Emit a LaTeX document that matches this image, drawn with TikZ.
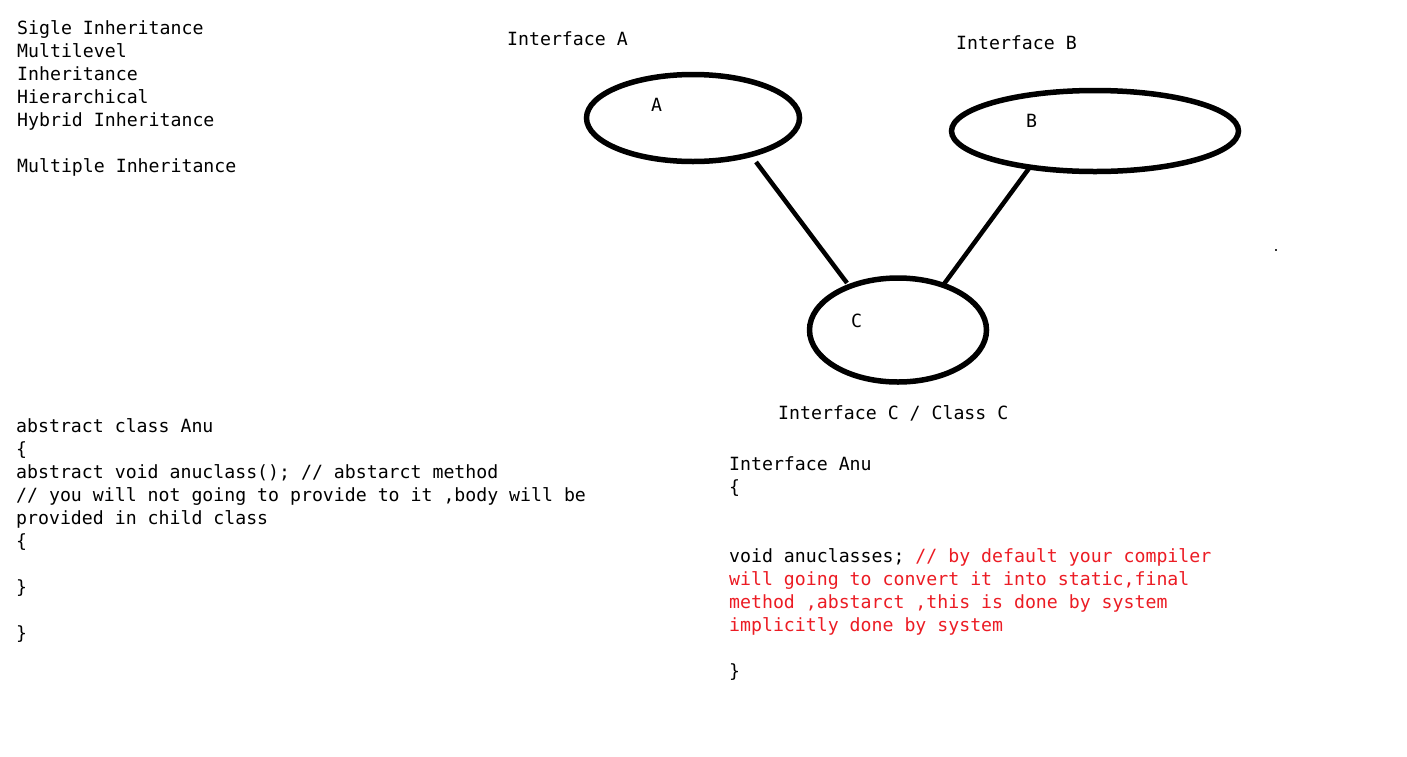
\documentclass[tikz,border=0pt]{standalone}
\usepackage{fontspec}
\setmonofont{DejaVu Sans Mono}
\usetikzlibrary{shapes.geometric,calc}
\definecolor{codered}{RGB}{236,28,36}
\tikzset{
  txt/.style={anchor=base west, inner sep=0pt, font=\ttfamily\fontsize{18.2}{23}\selectfont, text=black},
  oval/.style={ellipse, draw=black, line width=5.5pt, inner sep=0pt},
  link/.style={draw=black, line width=4.5pt}
}
\begin{document}
\begin{tikzpicture}[x=1pt,y=-1pt]
\useasboundingbox[fill=white] (0,0) rectangle (1407,756);
% top-left list
\node[txt] (l1) at (17,34) {Sigle Inheritance};
\node[txt] (l2) at (17,57) {Multilevel};
\node[txt] (l3) at (17,80) {Inheritance};
\node[txt] (l4) at (17,103) {Hierarchical};
\node[txt] (l5) at (17,126) {Hybrid Inheritance};
\node[txt] (l6) at (17,172) {Multiple Inheritance};
% diagram
\node[txt] (ia) at (507,45) {Interface A};
\node[txt] (ib) at (956,49) {Interface B};
\node[oval, minimum width=213pt, minimum height=87pt] (A) at (693,118) {};
\node[oval, minimum width=287pt, minimum height=81pt] (B) at (1095,131) {};
\node[oval, minimum width=177pt, minimum height=104pt] (C) at (898,330) {};
\node[txt] (la) at (651,111) {A};
\node[txt] (lb) at (1026,127) {B};
\node[txt] (lc) at (851,327) {C};
\draw[link] ($(A.center)+(63,44)$) -- ($(C.center)+(-51,-47)$);
\draw[link] ($(B.center)+(-65,36)$) -- ($(C.center)+(46,-46)$);
\node[txt] (ic) at (778,419) {Interface C / Class C};
\fill[black!80] (1275,249) rectangle (1277,251);
% bottom-left code
\node[txt] (c1) at (16,432) {abstract class Anu};
\node[txt] (c2) at (16,455) {\{};
\node[txt] (c3) at (16,478) {abstract void anuclass(); // abstarct method};
\node[txt] (c4) at (16,501) {// you will not going to provide to it ,body will be};
\node[txt] (c5) at (16,524) {provided in child class};
\node[txt] (c6) at (16,547) {\{};
\node[txt] (c7) at (16,593) {\}};
\node[txt] (c8) at (16,639) {\}};
% bottom-right code
\node[txt] (r1) at (729,470) {Interface Anu};
\node[txt] (r2) at (729,493) {\{};
\node[txt] (r3) at (729,562) {void anuclasses; \textcolor{codered}{// by default your compiler}};
\node[txt, text=codered] (r4) at (729,585) {will going to convert it into static,final};
\node[txt, text=codered] (r5) at (729,608) {method ,abstarct ,this is done by system};
\node[txt, text=codered] (r6) at (729,631) {implicitly done by system};
\node[txt] (r7) at (729,677) {\}};
\end{tikzpicture}
\end{document}
